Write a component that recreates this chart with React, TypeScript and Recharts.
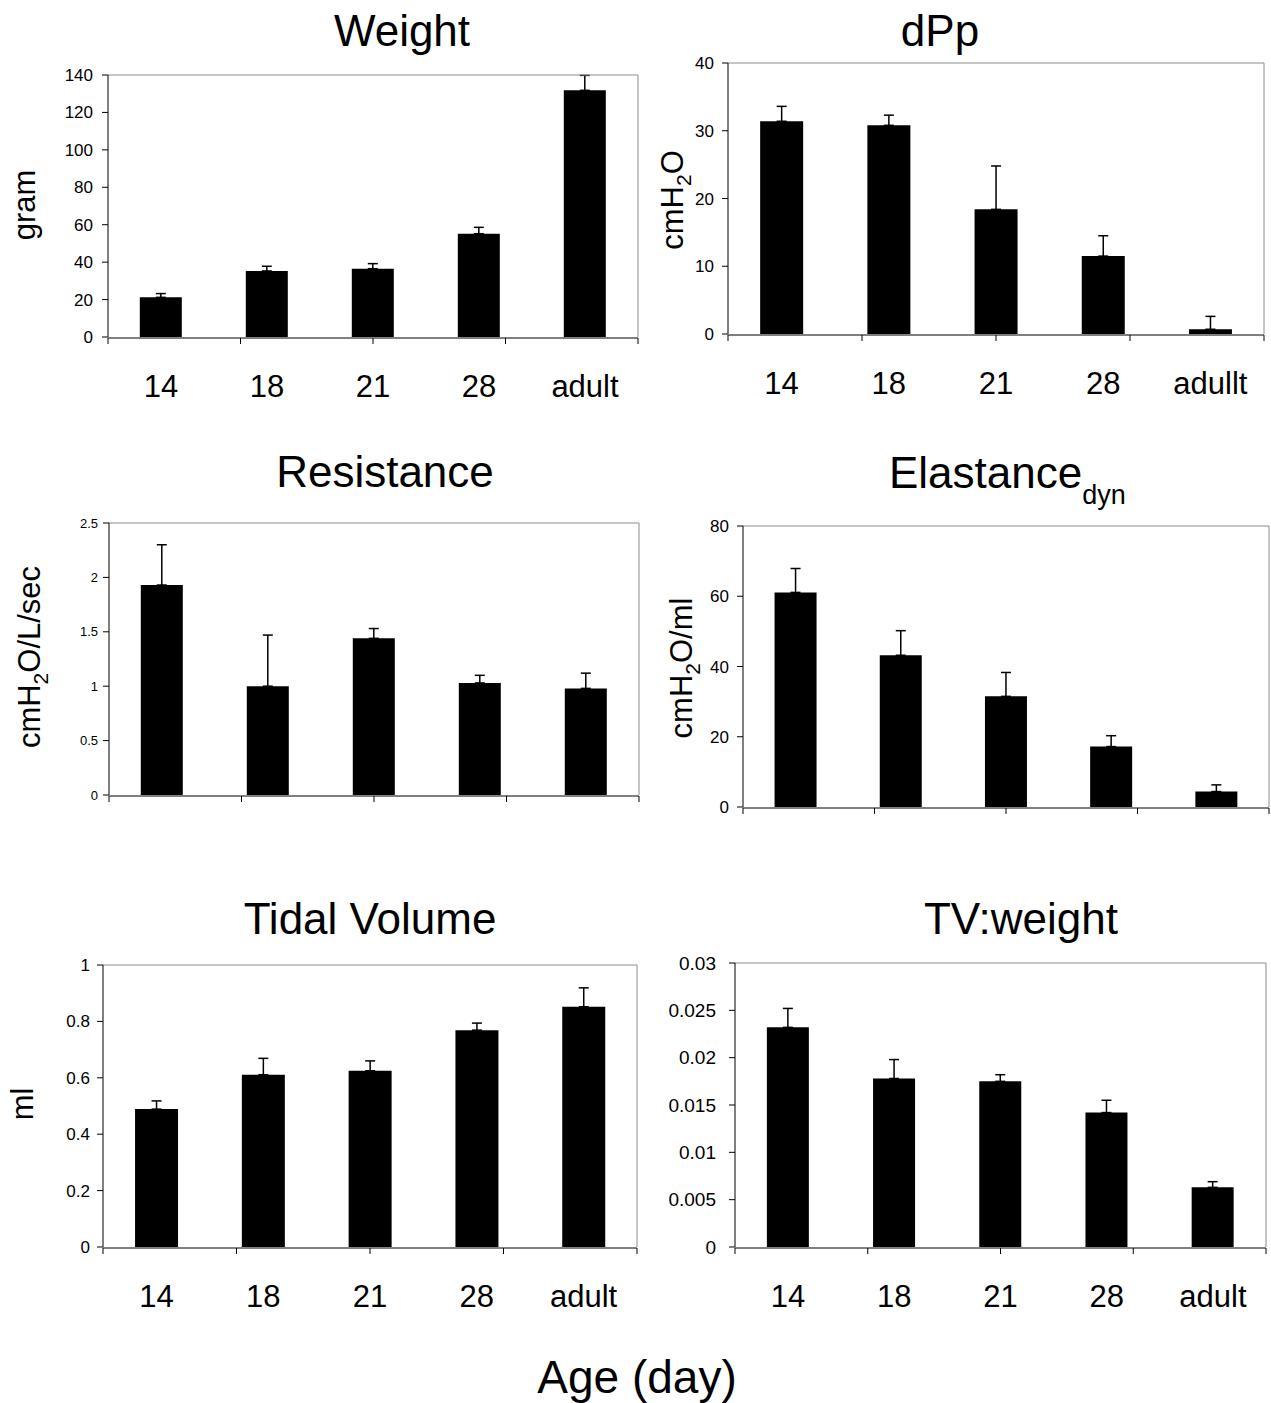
import React from "react";
import { BarChart, Bar, XAxis, YAxis, ErrorBar } from "recharts";

const FONT = "'Liberation Sans', Arial, Helvetica, sans-serif";

// age groups (x categories)
const ages = ["14", "18", "21", "28", "adult"];
const agesDpp = ["14", "18", "21", "28", "adullt"];

// Weight (gram)
const weightMean = [21.2, 35.3, 36.5, 55.2, 131.8];
const weightSem = [2.0, 2.5, 2.7, 3.4, 8.0];
const weightTicks = [0, 20, 40, 60, 80, 100, 120, 140];

// dPp (cmH2O)
const dppMean = [31.4, 30.8, 18.4, 11.5, 0.7];
const dppSem = [2.2, 1.5, 6.4, 3.0, 1.9];
const dppTicks = [0, 10, 20, 30, 40];

// Resistance (cmH2O/L/sec)
const resMean = [1.93, 1.0, 1.44, 1.03, 0.98];
const resSem = [0.37, 0.47, 0.09, 0.07, 0.14];
const resTicks = [0, 0.5, 1, 1.5, 2, 2.5];

// Elastance dyn (cmH2O/ml)
const elaMean = [61.1, 43.2, 31.5, 17.2, 4.4];
const elaSem = [6.8, 7.0, 6.8, 3.1, 1.9];
const elaTicks = [0, 20, 40, 60, 80];

// Tidal volume (ml)
const tvMean = [0.489, 0.611, 0.625, 0.769, 0.852];
const tvSem = [0.029, 0.058, 0.035, 0.025, 0.067];
const tvTicks = [0, 0.2, 0.4, 0.6, 0.8, 1];

// TV:weight
const tvwMean = [0.0232, 0.0178, 0.0175, 0.0142, 0.0063];
const tvwSem = [0.002, 0.002, 0.0007, 0.0013, 0.0006];
const tvwTicks = [0, 0.005, 0.01, 0.015, 0.02, 0.025, 0.03];

const boundaries = [0, 1, 2, 3, 4, 5];

type Box = { l: number; t: number; r: number; b: number };

interface PanelProps {
  labels: string[];
  means: number[];
  sems: number[];
  ticks: number[];
  box: Box;
  tickFont: number;
  tickMargin: number;
  showLabels: boolean;
}

const Panel = ({ labels, means, sems, ticks, box, tickFont, tickMargin, showLabels }: PanelProps) => {
  const data = labels.map((age, i) => ({ age, value: means[i], err: [0, sems[i]] }));
  const yW = 110;
  const mT = 14;
  const mR = 6;
  const mB = showLabels ? 80 : 14;
  // axes drawn with 1px thickness (recharts skips 0-sized axes)
  const width = box.r - box.l + yW + 1 + mR;
  const height = box.b - box.t + mT + 1 + 2 + mB;
  const domain = [ticks[0], ticks[ticks.length - 1]];

  return (
    <div style={{ position: "absolute", left: box.l - yW, top: box.t - mT - 1 }}>
      <BarChart
        width={width}
        height={height}
        data={data}
        margin={{ top: mT, right: mR, left: 0, bottom: mB }}
        barCategoryGap="30%"
      >
        {/* tick marks between categories, Excel style */}
        <XAxis
          xAxisId="grid"
          type="number"
          domain={[0, 5]}
          ticks={boundaries}
          allowDataOverflow
          interval={0}
          height={1}
          tickFormatter={() => ""}
          tickSize={6}
          stroke="#000"
        />
        <XAxis
          xAxisId="cat"
          dataKey="age"
          height={1}
          axisLine={false}
          tickLine={false}
          tickSize={0}
          tickMargin={38}
          interval={0}
          tick={showLabels ? { fontSize: 31, fill: "#000", fontFamily: FONT } : false}
        />
        {/* plot area border */}
        <XAxis
          xAxisId="top"
          orientation="top"
          type="number"
          domain={[0, 5]}
          allowDataOverflow
          height={1}
          tick={false}
          tickLine={false}
          stroke="#8c8c8c"
        />
        <YAxis
          yAxisId="val"
          domain={domain}
          ticks={ticks}
          allowDataOverflow
          interval={0}
          width={yW}
          tickSize={6}
          tickMargin={tickMargin}
          stroke="#000"
          tick={{ fontSize: tickFont, fill: "#000", fontFamily: FONT }}
        />
        <YAxis
          yAxisId="border"
          orientation="right"
          domain={domain}
          allowDataOverflow
          width={1}
          tick={false}
          tickLine={false}
          stroke="#8c8c8c"
        />
        <Bar xAxisId="cat" yAxisId="val" dataKey="value" fill="#000" isAnimationActive={false}>
          <ErrorBar dataKey="err" width={5} stroke="#000" strokeWidth={1.5} direction="y" />
        </Bar>
      </BarChart>
    </div>
  );
};

// rotated axis title, with optional subscript "2" in cmH2O
const YTitle = ({ x, y, pre, sub, post }: { x: number; y: number; pre: string; sub?: string; post?: string }) => (
  <text
    x={x}
    y={y}
    transform={`rotate(-90 ${x} ${y})`}
    textAnchor="middle"
    fontSize={31}
    fontFamily={FONT}
    fill="#000"
  >
    <tspan>{pre}</tspan>
    {sub && (
      <tspan fontSize={21} dy={8}>
        {sub}
      </tspan>
    )}
    {post !== undefined && <tspan dy={sub ? -8 : 0}>{post}</tspan>}
  </text>
);

const App = () => {
  return (
    <div style={{ position: "absolute", left: 0, top: 0, width: 1271, height: 1403, background: "#fff", overflow: "hidden" }}>
      <Panel labels={ages} means={weightMean} sems={weightSem} ticks={weightTicks}
        box={{ l: 108, t: 75, r: 638, b: 337 }} tickFont={17} tickMargin={9} showLabels />
      <Panel labels={agesDpp} means={dppMean} sems={dppSem} ticks={dppTicks}
        box={{ l: 728, t: 63, r: 1264, b: 334 }} tickFont={17} tickMargin={8} showLabels />
      <Panel labels={ages} means={resMean} sems={resSem} ticks={resTicks}
        box={{ l: 109, t: 523, r: 639, b: 795 }} tickFont={13} tickMargin={5} showLabels={false} />
      <Panel labels={ages} means={elaMean} sems={elaSem} ticks={elaTicks}
        box={{ l: 743, t: 526, r: 1269, b: 807 }} tickFont={17} tickMargin={8} showLabels={false} />
      <Panel labels={ages} means={tvMean} sems={tvSem} ticks={tvTicks}
        box={{ l: 103, t: 965, r: 637, b: 1247 }} tickFont={17} tickMargin={7} showLabels />
      <Panel labels={ages} means={tvwMean} sems={tvwSem} ticks={tvwTicks}
        box={{ l: 735, t: 963, r: 1266, b: 1247 }} tickFont={19} tickMargin={13} showLabels />

      <svg width={1271} height={1403} style={{ position: "absolute", left: 0, top: 0, pointerEvents: "none" }}>
        <g fontFamily={FONT} fill="#000">
          <text x={402} y={46} fontSize={44} textAnchor="middle">Weight</text>
          <text x={940} y={46} fontSize={44} textAnchor="middle">dPp</text>
          <text x={385} y={487} fontSize={44} textAnchor="middle">Resistance</text>
          <text x={889} y={488} fontSize={44} textAnchor="start">
            <tspan>Elastance</tspan>
            <tspan fontSize={27} dy={16}>dyn</tspan>
          </text>
          <text x={370} y={934} fontSize={44} textAnchor="middle">Tidal Volume</text>
          <text x={1021} y={934} fontSize={44} textAnchor="middle">TV:weight</text>
          <text x={637} y={1393} fontSize={46} textAnchor="middle">Age (day)</text>
        </g>
        <YTitle x={35} y={205} pre="gram" />
        <YTitle x={683} y={200} pre="cmH" sub="2" post="O" />
        <YTitle x={40} y={657} pre="cmH" sub="2" post="O/L/sec" />
        <YTitle x={692} y={668} pre="cmH" sub="2" post="O/ml" />
        <YTitle x={33} y={1104} pre="ml" />
      </svg>
    </div>
  );
};

export default App;
